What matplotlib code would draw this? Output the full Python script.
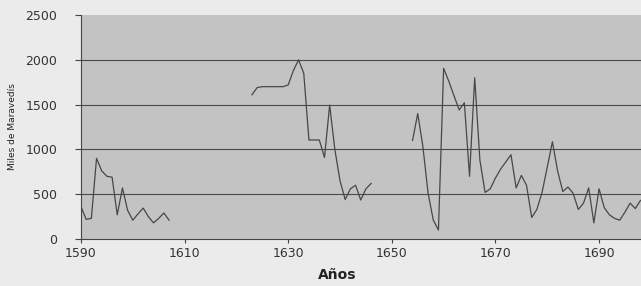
import numpy as np
import matplotlib
matplotlib.use("Agg")
import matplotlib.pyplot as plt

nan = np.nan
years = list(range(1590, 1699))
values = [
    # 1590-1599
    360, 220, 230, 900, 760, 700, 690, 270, 570, 320,
    # 1600-1609
    210, 280, 345, 250, 180, 230, 290, 210, nan, nan,
    # 1610-1619
    nan, nan, nan, nan, nan, nan, nan, nan, nan, nan,
    # 1620-1629
    nan, nan, nan, 1610, 1690, 1700, 1700, 1700, 1700, 1700,
    # 1630-1639
    1720, 1880, 2000, 1850, 1105, 1105, 1105, 910, 1495, 1000,
    # 1640-1649
    650, 440, 560, 600, 435, 560, 620, nan, nan, nan,
    # 1650-1659
    nan, nan, nan, nan, 1100, 1400, 1030, 510, 212, 100,
    # 1660-1669
    1905, 1760, 1600, 1440, 1520, 700, 1800, 880, 520, 560,
    # 1670-1679
    680, 780, 860, 940, 570, 710, 600, 240, 330, 520,
    # 1680-1689
    800, 1086, 760, 530, 580, 510, 330, 400, 570, 180,
    # 1690-1698
    560, 350, 270, 230, 210, 300, 400, 340, 430,
]

x_ticks = [1590, 1610, 1630, 1650, 1670, 1690]
y_ticks = [0, 500, 1000, 1500, 2000, 2500]

fig = plt.figure(figsize=(6.41, 2.86), dpi=100, facecolor="#ebebeb")
ax = fig.add_axes([81/641, 47/286, 560/641, 224/286])
ax.set_facecolor("#c3c3c3")

ax.plot(years, values, color="#474747", lw=0.9)

ax.set_xlim(1590, 1698.1)
ax.set_ylim(0, 2500)
ax.set_xticks(x_ticks)
ax.set_yticks(y_ticks)
ax.set_xticklabels([str(t) for t in x_ticks], fontsize=9, color="#333333")
ax.set_yticklabels([str(t) for t in y_ticks], fontsize=9, color="#333333")

for v in y_ticks[1:-1]:
    ax.axhline(v, color="#4a4a4a", lw=0.8, zorder=1)

for s in ["top", "right"]:
    ax.spines[s].set_visible(False)
ax.spines["left"].set_color("#444444")
ax.spines["bottom"].set_color("#444444")
ax.spines["left"].set_linewidth(0.8)
ax.spines["bottom"].set_linewidth(0.8)
ax.tick_params(axis="y", length=4, width=0.8, color="#444444", pad=13)
ax.tick_params(axis="x", length=3, width=0.8, color="#444444", pad=3)

ax.set_xlabel("Años", fontsize=10, fontweight="bold", color="#222222")
ax.xaxis.set_label_coords(0.457, -0.13)
ax.set_ylabel("Miles de Maravedís", fontsize=6.5, color="#222222")
ax.yaxis.set_label_coords(-0.115, 0.5)

fig.savefig("out.png", dpi=100, facecolor=fig.get_facecolor())
